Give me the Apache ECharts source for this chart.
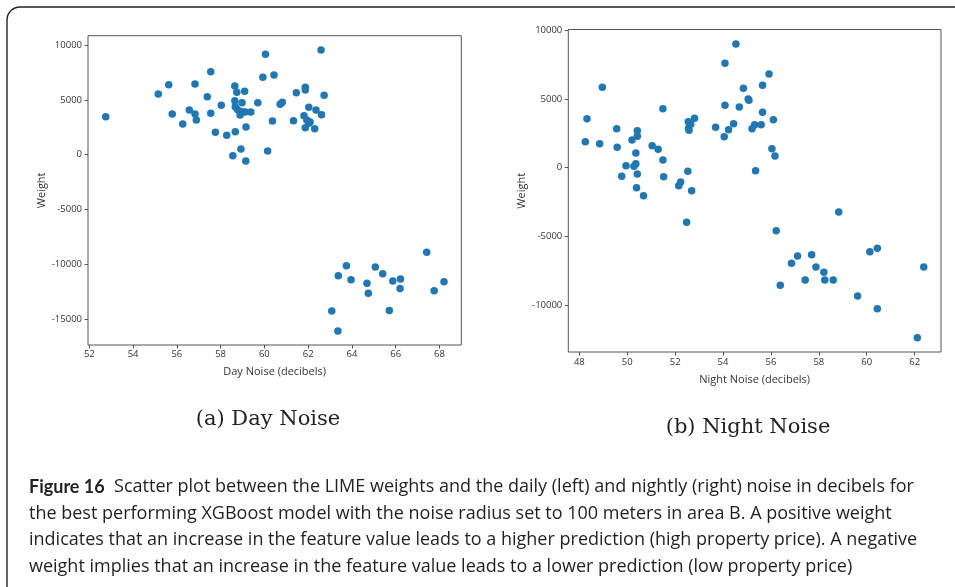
<!DOCTYPE html>
<html>
<head>
<meta charset="utf-8">
<style>
  html, body { margin: 0; padding: 0; background: #fff; }
  #chart { width: 955px; height: 587px; }
</style>
<script src="https://cdn.jsdelivr.net/npm/echarts@6/dist/echarts.min.js"></script>
</head>
<body>
<div id="chart"></div>
<script>
// Day noise (dB) vs LIME weight
const dayNoise = [
  52.75, 55.15, 55.63, 55.79, 56.27, 56.57, 56.83, 56.83, 56.89, 57.55,
  57.39, 57.55, 57.76, 58.03, 58.28, 58.56, 58.65, 58.74, 59.10, 58.65,
  58.98, 58.67, 58.77, 58.89, 59.01, 59.12, 58.89, 59.38, 59.70, 58.67,
  59.16, 58.93, 59.15, 60.05, 59.93, 60.44, 60.37, 60.15, 62.59, 60.72,
  60.82, 61.46, 61.87, 61.87, 62.73, 62.03, 62.36, 61.81, 62.61, 61.33,
  61.94, 62.09, 62.03, 61.87, 62.30,
  67.42, 63.75, 63.38, 63.96, 65.07, 65.41, 64.69, 64.75, 65.87, 66.22,
  66.20, 65.71, 63.08, 63.36, 67.76, 68.21
];
const dayWeight = [
  3470, 5550, 6400, 3720, 2810, 4090, 6460, 3720, 3170, 7590,
  5300, 3780, 2050, 4520, 1770, -90, 6280, 5700, 5790, 4940,
  4760, 4380, 4140, 3960, 3900, 3900, 3630, 3900, 4760, 2100,
  2530, 520, -580, 9180, 7080, 7290, 3080, 340, 9570, 4610,
  4790, 5670, 6160, 5910, 5430, 4330, 4080, 3560, 3660, 3110,
  3170, 2990, 2870, 2470, 2380,
  -8920, -10140, -11060, -11420, -10270, -10880, -11760, -12670, -11540, -11360,
  -12220, -14230, -14290, -16120, -12430, -11610
];

// Night noise (dB) vs LIME weight
const nightNoise = [
  48.96, 48.32, 48.25, 48.85, 49.56, 49.58, 50.42, 50.42, 50.20, 50.36,
  49.95, 50.28, 50.36, 49.77, 50.42, 50.39, 50.68, 51.04, 51.29, 51.49,
  51.49, 51.52, 52.15, 52.23, 52.53, 52.69, 52.48, 52.55, 52.65, 52.81,
  52.56, 52.58, 53.69, 54.05, 54.08, 54.08, 54.54, 54.23, 54.44, 54.68,
  54.85, 55.05, 55.08, 55.92, 55.65, 55.65, 56.10, 55.21, 55.32, 55.59,
  56.04, 56.17, 55.36, 58.83, 56.22, 60.13, 60.44, 62.38, 57.11, 56.86,
  57.70, 57.88, 58.21, 57.43, 58.25, 58.60, 56.39, 59.62, 60.44, 62.11
];
const nightWeight = [
  5850, 3570, 1890, 1750, 2840, 1480, 2690, 2290, 2020, 1070,
  150, 100, 290, -630, -460, -1460, -2040, 1600, 1340, 4290,
  560, -660, -1310, -1040, -260, -1670, -3970, 3350, 3160, 3600,
  2870, 2720, 2940, 2260, 4540, 7600, 9000, 2770, 3200, 4420,
  5790, 5000, 4900, 6820, 6000, 4030, 3490, 2840, 3130, 3130,
  1380, 850, -220, -3220, -4590, -6110, -5870, -7230, -6430, -6960,
  -6330, -7230, -7610, -8170, -8170, -8170, -8560, -9340, -10260, -12370
];

// Tick labels
const dayTicks = [52, 54, 56, 58, 60, 62, 64, 66, 68];
const nightTicks = [48, 50, 52, 54, 56, 58, 60, 62];
const dayWeightTicks = [-15000, -10000, -5000, 0, 5000, 10000];
const nightWeightTicks = [-10000, -5000, 0, 5000, 10000];

// Text
const panelTitles = ['(a) Day Noise', '(b) Night Noise'];
const xNames = ['Day Noise (decibels)', 'Night Noise (decibels)'];
const yName = 'Weight';
const captionLines = [
  '{b|Figure 16}  Scatter plot between the LIME weights and the daily (left) and nightly (right) noise in decibels for',
  'the best performing XGBoost model with the noise radius set to 100 meters in area B. A positive weight',
  'indicates that an increase in the feature value leads to a higher prediction (high property price). A negative',
  'weight implies that an increase in the feature value leads to a lower prediction (low property price)'
];

const dotColor = '#1f77b4';
const frameColor = '#555';
const tickFont = 'Open Sans';
const labelColor = '#333';

function zip(xs, ys) { return xs.map((x, i) => [x, ys[i]]); }
const plain = v => String(v);

function xAxisFor(gridIndex, min, max, ticks, name, nameGap, labelMargin) {
  return {
    type: 'value', gridIndex, min, max,
    name, nameLocation: 'middle', nameGap,
    nameTextStyle: { fontFamily: tickFont, fontSize: 11, color: labelColor },
    axisLine: { show: false, onZero: false },
    splitLine: { show: false },
    axisTick: { show: true, length: 3.5, customValues: ticks, lineStyle: { color: frameColor } },
    axisLabel: { customValues: ticks, formatter: plain, margin: labelMargin, fontFamily: tickFont, fontSize: 9.5, color: labelColor }
  };
}
function yAxisFor(gridIndex, min, max, ticks, nameGap) {
  return {
    type: 'value', gridIndex, min, max,
    name: yName, nameLocation: 'middle', nameGap, nameRotate: 90,
    nameTextStyle: { fontFamily: tickFont, fontSize: 11, color: labelColor },
    axisLine: { show: false, onZero: false },
    splitLine: { show: false },
    axisTick: { show: true, length: 3.5, customValues: ticks, lineStyle: { color: frameColor } },
    axisLabel: { customValues: ticks, formatter: plain, margin: 6, fontFamily: tickFont, fontSize: 9.5, color: labelColor }
  };
}

const chart = echarts.init(document.getElementById('chart'), null, { renderer: 'canvas' });

const captionTop = 487;
const captionStep = 26.5;
const captionFont = 'Open Sans';

const graphics = [
  {
    type: 'rect', silent: true, z: -1,
    shape: { x: 7, y: 7, width: 1100, height: 800, r: 13 },
    style: { fill: 'none', stroke: '#222', lineWidth: 1.4 }
  },
  {
    type: 'text', silent: true,
    style: { text: panelTitles[0], x: 268, y: 420, textAlign: 'center', textVerticalAlign: 'middle',
             font: '21px "DejaVu Serif"', fill: '#222' }
  },
  {
    type: 'text', silent: true,
    style: { text: panelTitles[1], x: 748, y: 428, textAlign: 'center', textVerticalAlign: 'middle',
             font: '21px "DejaVu Serif"', fill: '#222' }
  }
];
captionLines.forEach((line, i) => {
  graphics.push({
    type: 'text', silent: true,
    style: {
      text: line, x: 29, y: captionTop + i * captionStep,
      textAlign: 'left', textVerticalAlign: 'middle',
      fontFamily: captionFont, fontSize: 18, fill: '#231f20',
      rich: { b: { fontFamily: 'Lato', fontSize: 18, fontWeight: 'bold', fill: '#231f20' } }
    }
  });
});

chart.setOption({
  animation: false,
  backgroundColor: '#fff',
  grid: [
    { left: 88, top: 35.7, width: 373.3, height: 309.3, show: true, borderColor: frameColor, borderWidth: 1, backgroundColor: 'transparent' },
    { left: 568.3, top: 29.5, width: 372.7, height: 322.5, show: true, borderColor: frameColor, borderWidth: 1, backgroundColor: 'transparent' }
  ],
  xAxis: [
    xAxisFor(0, 51.94, 69.0, dayTicks, xNames[0], 21, 4),
    xAxisFor(1, 47.54, 63.10, nightTicks, xNames[1], 22, 5)
  ],
  yAxis: [
    yAxisFor(0, -17393, 10877, dayWeightTicks, 41),
    yAxisFor(1, -13413, 10058, nightWeightTicks, 41)
  ],
  series: [
    { type: 'scatter', xAxisIndex: 0, yAxisIndex: 0, data: zip(dayNoise, dayWeight),
      symbolSize: 7.5, itemStyle: { color: dotColor, opacity: 1 } },
    { type: 'scatter', xAxisIndex: 1, yAxisIndex: 1, data: zip(nightNoise, nightWeight),
      symbolSize: 7.5, itemStyle: { color: dotColor, opacity: 1 } }
  ],
  graphic: graphics
});
</script>
</body>
</html>
